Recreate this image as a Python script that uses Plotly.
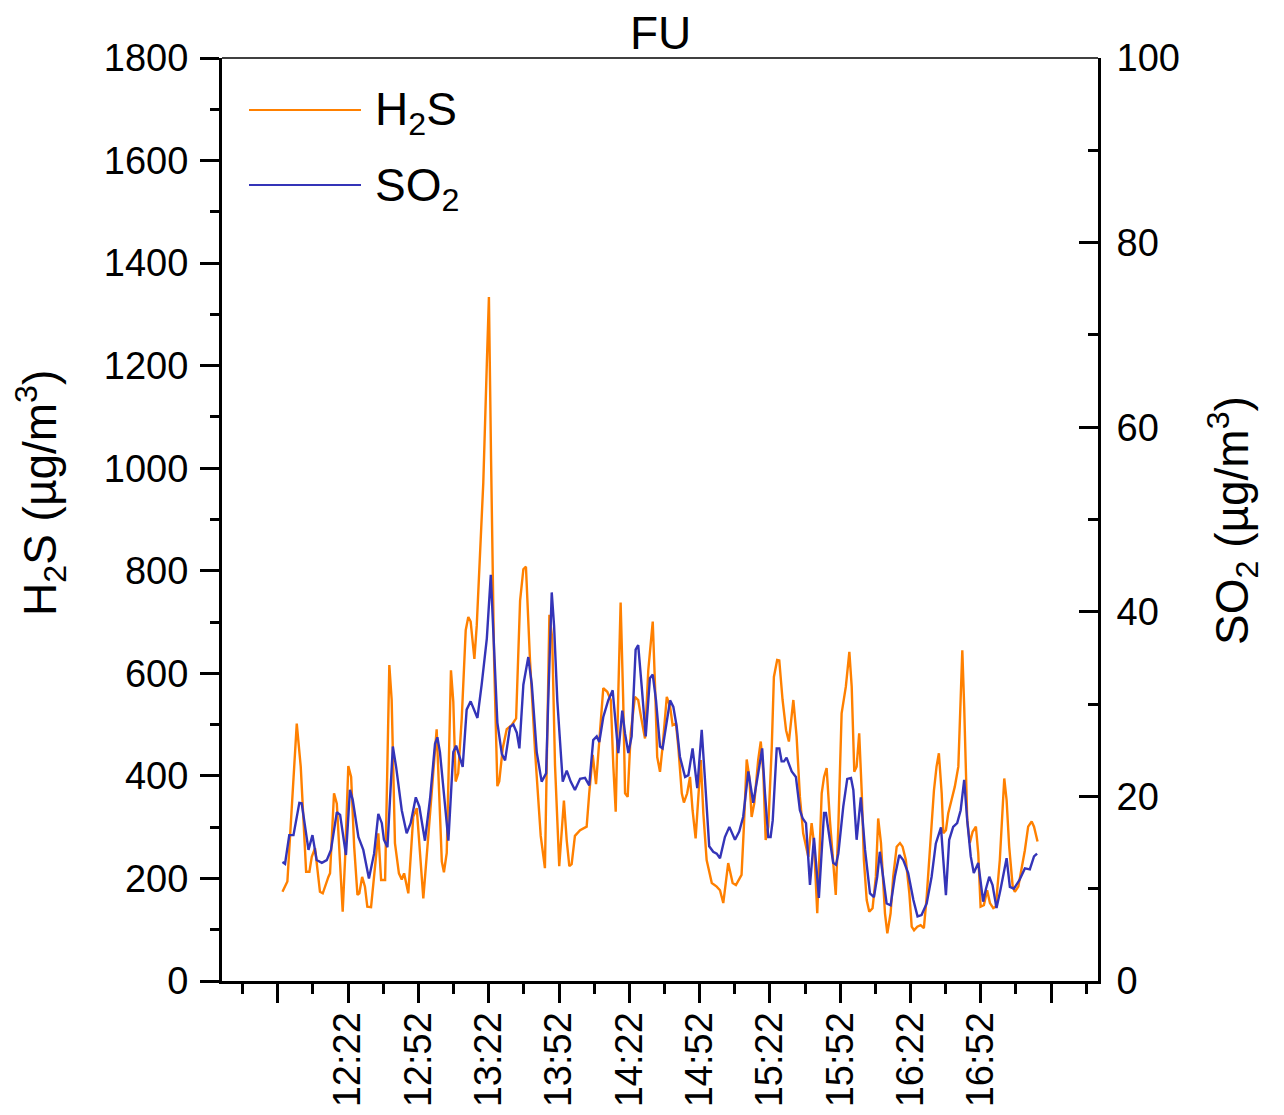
import plotly.graph_objects as go

# ---------------- data ----------------
# time axis: minutes after 11:52
h2s_minutes = [
    2.0, 4.1, 8.1, 9.8, 12.1, 13.5, 14.5, 15.9, 18.0, 19.2,
    21.6, 22.3, 24.0, 25.2, 27.7, 28.7, 30.1, 31.3, 32.6, 34.0,
    34.8, 36.0, 37.2, 38.2, 39.8, 42.9, 44.1, 45.8, 47.6, 48.6,
    50.0, 51.7, 52.9, 53.9, 55.7, 57.8, 59.3, 62.1, 64.2, 67.8,
    70.0, 70.9, 72.1, 73.9, 74.9, 75.9, 77.0, 78.5, 80.2, 81.3,
    82.3, 83.9, 84.9, 87.7, 89.2, 90.1, 91.0, 92.3, 93.7, 94.5,
    96.0, 97.7, 99.8, 101.7, 103.4, 104.8, 105.9, 107.6, 109.8, 112.2,
    114.0, 115.9, 117.1, 118.3, 120.1, 122.1, 123.3, 124.4, 125.4, 126.8,
    129.0, 131.8, 132.9, 134.4, 135.8, 137.5, 138.9, 140.6, 142.1, 143.2,
    144.2, 145.3, 146.3, 147.4, 148.2, 149.3, 150.6, 152.4, 153.8, 155.0,
    156.7, 158.1, 160.0, 161.0, 161.9, 163.1, 164.2, 166.0, 167.4, 168.5,
    169.9, 170.9, 172.4, 173.3, 174.7, 175.9, 177.0, 178.3, 179.4, 180.5,
    181.6, 183.0, 185.2, 187.3, 188.7, 190.1, 192.2, 194.1, 195.5, 197.9,
    198.9, 200.1, 201.2, 202.2, 203.3, 205.0, 206.1, 207.2, 208.2, 209.3,
    210.8, 211.7, 213.1, 214.0, 215.4, 216.9, 218.1, 220.0, 221.4, 222.8,
    224.2, 226.4, 227.8, 228.8, 230.2, 232.1, 233.1, 234.2, 235.6, 237.0,
    238.1, 239.2, 240.6, 242.4, 243.9, 244.9, 246.0, 247.0, 248.1, 249.2,
    250.1, 251.3, 252.4, 253.8, 255.2, 256.2, 257.4, 259.1, 260.1, 261.5,
    262.6, 264.1, 265.5, 266.6, 268.0, 269.5, 270.5, 271.5, 272.9, 274.3,
    275.7, 276.9, 278.3, 280.0, 281.1, 282.1, 283.3, 284.0, 285.1, 286.1,
    287.5, 288.9, 290.4, 291.1, 292.1, 292.9, 294.2, 295.3, 296.5, 297.9,
    298.9, 299.9, 301.3, 302.7, 303.9, 305.3, 306.4, 308.1, 309.3, 310.0,
    311.0, 312.1, 313.6, 314.5, 316.0, 317.4, 318.8, 320.2, 321.7, 322.7, 324.2,
]
h2s_values = [
    174, 194, 502, 418, 213, 213, 242, 259, 174, 171,
    203, 210, 366, 346, 135, 236, 419, 398, 262, 168,
    171, 203, 184, 145, 144, 288, 197, 197, 616, 548,
    269, 210, 198, 210, 171, 320, 337, 161, 281, 491,
    233, 212, 250, 606, 545, 389, 405, 512, 684, 710,
    701, 628, 693, 972, 1203, 1334, 1022, 628, 380, 389,
    454, 491, 499, 512, 742, 803, 808, 628, 447, 283,
    220, 714, 669, 421, 224, 352, 274, 224, 228, 283,
    294, 301, 366, 441, 384, 483, 571, 564, 548, 418,
    330, 561, 738, 548, 366, 359, 483, 554, 548, 515,
    473, 606, 701, 574, 437, 408, 457, 554, 535, 499,
    502, 457, 366, 348, 366, 398, 333, 278, 366, 431,
    327, 236, 191, 184, 177, 152, 230, 191, 187, 207,
    301, 432, 398, 320, 346, 431, 467, 405, 275, 301,
    457, 593, 626, 625, 548, 489, 467, 548, 476, 359,
    288, 242, 308, 269, 132, 366, 398, 415, 314, 223,
    168, 301, 522, 574, 642, 574, 408, 418, 483, 366,
    236, 158, 135, 142, 203, 317, 269, 132, 93, 132,
    203, 262, 269, 262, 236, 171, 106, 99, 106, 109,
    103, 164, 255, 372, 418, 444, 366, 288, 294, 327,
    353, 379, 418, 528, 645, 535, 314, 269, 291, 301,
    249, 145, 148, 177, 152, 142, 145, 236, 333, 395,
    353, 262, 184, 174, 184, 216, 255, 301, 311, 301, 272,
]

so2_minutes = [
    2.0, 3.1, 4.9, 6.7, 9.2, 10.2, 13.1, 14.8, 16.6, 18.8,
    20.9, 22.7, 25.2, 26.6, 29.1, 30.8, 32.0, 34.4, 36.5, 38.9,
    41.1, 42.9, 44.4, 45.3, 46.8, 49.1, 50.5, 52.9, 55.0, 56.7,
    58.9, 60.4, 62.8, 65.0, 67.1, 68.1, 69.2, 72.8, 74.9, 76.1,
    78.9, 80.6, 82.3, 83.7, 85.2, 87.0, 89.2, 90.9, 92.0, 93.7,
    95.6, 97.0, 99.1, 100.5, 102.0, 103.1, 104.8, 106.9, 108.4, 110.5,
    112.6, 114.5, 115.4, 116.9, 117.9, 119.3, 121.6, 123.3, 125.0, 126.8,
    129.0, 131.1, 132.9, 134.6, 136.1, 137.2, 138.9, 141.0, 142.9, 145.3,
    147.0, 148.2, 149.6, 151.0, 152.7, 153.8, 155.3, 157.0, 158.8, 160.0,
    161.4, 163.1, 164.2, 166.0, 167.4, 168.8, 170.2, 171.6, 173.8, 175.2,
    177.0, 179.0, 180.9, 182.3, 184.1, 185.8, 187.3, 188.7, 190.8, 192.7,
    195.1, 196.9, 198.6, 200.8, 202.9, 205.0, 206.7, 207.9, 209.3, 210.3,
    211.2, 212.9, 214.0, 215.0, 216.0, 217.1, 219.3, 221.1, 222.8, 224.0,
    225.4, 227.1, 228.8, 230.9, 233.1, 233.9, 235.6, 237.0, 238.2, 239.2,
    241.3, 243.0, 244.6, 245.6, 247.0, 248.8, 250.6, 252.7, 254.4, 255.8,
    256.9, 258.4, 259.8, 261.5, 263.3, 265.2, 266.9, 269.0, 271.2, 273.0,
    274.7, 276.9, 279.0, 280.8, 283.0, 284.0, 285.1, 286.5, 288.2, 289.9,
    291.4, 292.9, 294.2, 295.7, 297.0, 298.9, 301.0, 302.2, 303.6, 305.0,
    306.7, 308.4, 311.0, 312.4, 314.1, 316.4, 318.8, 320.9, 322.7, 324.0,
]
so2_values = [
    12.9, 12.7, 15.8, 15.8, 19.3, 19.25, 14.2, 15.8, 13.1, 12.8,
    13.1, 14.2, 18.3, 18.0, 13.65, 20.7, 19.6, 15.6, 14.2, 11.1,
    13.8, 18.1, 17.1, 15.3, 14.5, 25.4, 23.2, 18.5, 16.0, 17.1,
    19.9, 18.9, 15.2, 19.8, 25.7, 26.4, 24.8, 15.2, 24.8, 25.5,
    23.2, 29.4, 30.3, 29.4, 28.5, 32.1, 37.1, 44.0, 38.0, 28.0,
    24.6, 23.9, 27.5, 27.8, 26.9, 25.2, 32.1, 35.1, 32.1, 24.8,
    21.6, 22.5, 30.3, 42.1, 38.5, 30.3, 21.6, 22.8, 21.6, 20.7,
    21.9, 22.0, 21.2, 26.1, 26.5, 25.9, 28.6, 30.4, 31.5, 24.7,
    29.3, 26.8, 24.7, 26.5, 35.9, 36.4, 31.9, 26.5, 32.8, 33.2,
    30.4, 25.4, 25.2, 28.3, 30.4, 29.7, 27.6, 24.3, 22.1, 22.3,
    25.2, 20.9, 27.2, 21.8, 14.6, 14.0, 13.8, 13.3, 15.6, 16.7,
    15.3, 16.2, 17.8, 22.7, 19.3, 22.5, 25.2, 20.3, 15.6, 15.6,
    17.4, 25.2, 25.2, 23.8, 23.8, 24.2, 22.7, 22.1, 18.5, 17.6,
    17.1, 10.4, 15.5, 9.0, 18.2, 18.2, 15.3, 12.8, 12.6, 13.8,
    18.9, 21.9, 22.0, 20.7, 15.3, 19.9, 14.2, 9.5, 9.1, 11.3,
    14.0, 10.9, 8.4, 8.2, 11.3, 13.65, 13.1, 11.7, 8.8, 7.0,
    7.15, 8.4, 11.3, 14.9, 16.65, 13.1, 9.3, 15.3, 16.7, 17.1,
    18.5, 21.8, 17.4, 13.5, 11.7, 12.8, 8.6, 10.0, 11.3, 10.4,
    7.9, 9.9, 13.3, 10.2, 10.0, 10.9, 12.2, 12.1, 13.5, 13.8,
]

tick_minutes = [0, 30, 60, 90, 120, 150, 180, 210, 240, 270, 300, 330]
tick_labels = ["", "12:22", "12:52", "13:22", "13:52", "14:22",
               "14:52", "15:22", "15:52", "16:22", "16:52", ""]
minor_minutes = [-15, 15, 45, 75, 105, 135, 165, 195, 225, 255, 285, 315, 345]

FONT = "Liberation Sans, Arial, sans-serif"
ORANGE = "#FF8000"
BLUE = "#3434B8"

fig = go.Figure()
fig.add_trace(go.Scatter(x=h2s_minutes, y=h2s_values, mode="lines", name="H2S",
                         line=dict(color=ORANGE, width=2.4), showlegend=False))
fig.add_trace(go.Scatter(x=so2_minutes, y=so2_values, mode="lines", name="SO2",
                         yaxis="y2", line=dict(color=BLUE, width=2.4), showlegend=False))

W, H = 1284, 1115
L, R, T, B = 222, 1098, 58, 981


def px(x):
    return (x - L) / (R - L)


def py(y):
    return (B - y) / (B - T)


fig.update_layout(
    width=W, height=H, autosize=False,
    margin=dict(l=L, r=W - R, t=T, b=H - B, pad=0, autoexpand=False),
    paper_bgcolor="white", plot_bgcolor="white",
    font=dict(family=FONT, color="black", size=38),
    xaxis=dict(
        range=[-23.8, 350], showgrid=False, zeroline=False, automargin=False,
        showline=True, linewidth=3, linecolor="black",
        tickmode="array", tickvals=tick_minutes, ticktext=tick_labels,
        tickangle=-90, ticks="outside", ticklen=19, tickwidth=3, tickcolor="black",
        tickfont=dict(size=38), ticklabelstandoff=-6,
        minor=dict(tickmode="array", tickvals=minor_minutes, ticks="outside",
                   ticklen=10, tickwidth=3, tickcolor="black", showgrid=False),
    ),
    yaxis=dict(
        range=[0, 1800], showgrid=False, zeroline=False, automargin=False,
        showline=True, linewidth=3, linecolor="black",
        tickmode="linear", tick0=0, dtick=200,
        ticks="outside", ticklen=19, tickwidth=3, tickcolor="black",
        tickfont=dict(size=38), ticklabelstandoff=4,
        minor=dict(dtick=100, ticks="outside", ticklen=9, tickwidth=3,
                   tickcolor="black", showgrid=False),
    ),
    yaxis2=dict(
        range=[0, 100], overlaying="y", side="right", automargin=False,
        showgrid=False, zeroline=False,
        showline=True, linewidth=3, linecolor="black",
        tickmode="linear", tick0=0, dtick=20,
        ticks="inside", ticklen=19, tickwidth=3, tickcolor="black",
        tickfont=dict(size=38), ticklabelstandoff=8,
        minor=dict(dtick=10, ticks="inside", ticklen=10, tickwidth=3,
                   tickcolor="black", showgrid=False),
    ),
)

shapes = [
    dict(type="line", xref="paper", yref="paper", x0=0, x1=1, y0=1, y1=1,
         line=dict(color="black", width=1.5)),
    dict(type="line", xref="paper", yref="paper", x0=px(249), x1=px(361),
         y0=py(110), y1=py(110), line=dict(color=ORANGE, width=2)),
    dict(type="line", xref="paper", yref="paper", x0=px(249), x1=px(361),
         y0=py(185), y1=py(185), line=dict(color=BLUE, width=2)),
]
fig.update_layout(shapes=shapes)

annotations = [
    dict(text="FU", x=0.5, y=py(33), xref="paper", yref="paper",
         xanchor="center", yanchor="middle", showarrow=False,
         font=dict(size=46, family=FONT)),
    dict(text="H<sub>2</sub>S (µg/m<sup>3</sup>)", x=px(40), y=py(493),
         xref="paper", yref="paper", xanchor="center", yanchor="middle",
         textangle=-90, showarrow=False, font=dict(size=46, family=FONT)),
    dict(text="SO<sub>2</sub> (µg/m<sup>3</sup>)", x=px(1232), y=py(521),
         xref="paper", yref="paper", xanchor="center", yanchor="middle",
         textangle=-90, showarrow=False, font=dict(size=46, family=FONT)),
    dict(text="H<sub>2</sub>S", x=px(373), y=py(113), xref="paper", yref="paper",
         xanchor="left", yanchor="middle", showarrow=False,
         font=dict(size=46, family=FONT)),
    dict(text="SO<sub>2</sub>", x=px(373), y=py(188), xref="paper", yref="paper",
         xanchor="left", yanchor="middle", showarrow=False,
         font=dict(size=46, family=FONT)),
]
fig.update_layout(annotations=annotations)

fig.write_html("out.html")
